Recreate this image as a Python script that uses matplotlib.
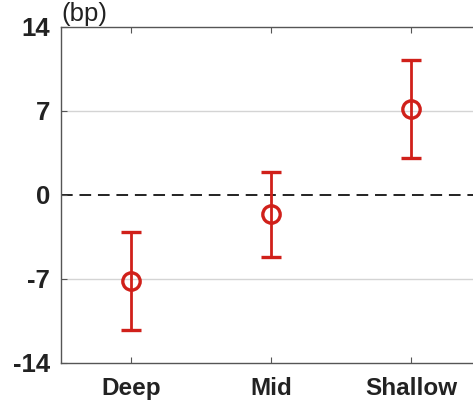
import numpy as np
import matplotlib.pyplot as plt

# ======================
# Datos
# ======================
grupos = ["Deep", "Mid", "Shallow"]
media = [-7.15, -1.6, 7.15]
error = [4.1, 3.55, 4.1]
yticks = [-14, -7, 0, 7, 14]

rojo = "#d0201a"

plt.rcParams['font.family'] = ['Liberation Sans', 'DejaVu Sans']

fig = plt.figure(figsize=(4.73, 4.05), dpi=100)
ax = fig.add_axes([61/473, 42/405, 420/473, 336/405])

x = np.arange(1, len(grupos) + 1)
ax.axhline(0, color="#222222", linestyle=(0, (6, 3.5)), linewidth=1.4, zorder=1)
for yv in [-7, 7]:
    ax.axhline(yv, color="#d4d4d4", linewidth=1.0, zorder=0)

ax.errorbar(x, media, yerr=error, fmt="o", color=rojo, markerfacecolor="none",
            markersize=12.5, markeredgewidth=2.4, elinewidth=2.0, capsize=7.5,
            capthick=2.0, zorder=3)

ax.set_xlim(0.5, 3.5)
ax.set_ylim(-14, 14)
ax.set_xticks(x)
ax.set_xticklabels(grupos, fontsize=17.5, fontweight="bold", color="#222222")
ax.set_yticks(yticks)
ax.set_yticklabels([str(v) for v in yticks], fontsize=18.5, fontweight="bold", color="#222222")
ax.tick_params(axis="x", direction="in", length=4, top=True, pad=10, color="#555555")
ax.tick_params(axis="y", direction="in", length=4, right=False, pad=8, color="#555555")
for s in ax.spines.values():
    s.set_color("#555555")
    s.set_linewidth(1.0)

ax.text(0.0, 1.003, "(bp)", transform=ax.transAxes, fontsize=18.5, ha="left", va="bottom",
        color="#222222")

fig.savefig("out.png", dpi=100)
